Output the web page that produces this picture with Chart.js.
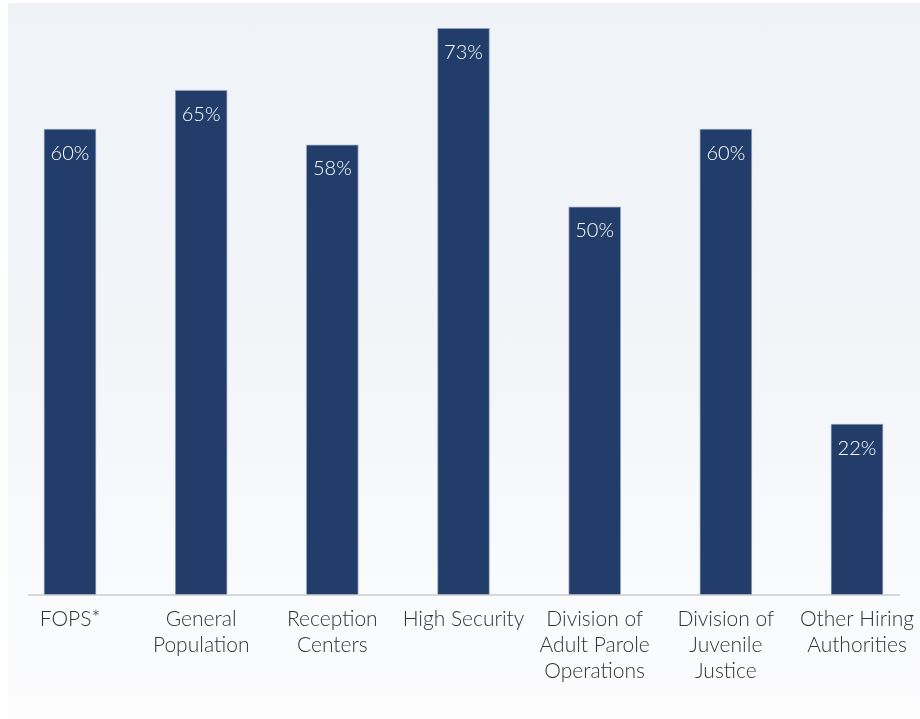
<!DOCTYPE html>
<html>
<head>
<meta charset="utf-8">
<script src="https://cdn.jsdelivr.net/npm/chart.js@4.4.1/dist/chart.umd.min.js"></script>
<style>
  html, body { margin: 0; padding: 0; background: #ffffff; }
  #wrap { position: relative; width: 920px; height: 719px; }
  #panel { position: absolute; left: 8px; top: 3px; width: 912px; height: 716px;
    background: linear-gradient(to bottom, #eff2f7 0%, #f3f5f9 50%, #fafbfd 85%, #fcfcfd 100%); }
  #c { position: absolute; left: 0; top: 0; }
</style>
</head>
<body>
<div id="wrap">
  <div id="panel"></div>
  <canvas id="c" width="920" height="719"></canvas>
</div>
<script>
const categories = [
  "FOPS*",
  ["General", "Population"],
  ["Reception", "Centers"],
  "High Security",
  ["Division of", "Adult Parole", "Operations"],
  ["Division of", "Juvenile", "Justice"],
  ["Other Hiring", "Authorities"]
];
const values = [60, 65, 58, 73, 50, 60, 22];
const valueLabels = ["60%", "65%", "58%", "73%", "50%", "60%", "22%"];

const FONT = "Lato, 'Noto Sans', sans-serif";

const barLabels = {
  id: 'barLabels',
  afterDatasetsDraw(chart) {
    const ctx = chart.ctx;
    const meta = chart.getDatasetMeta(0);
    ctx.save();
    ctx.fillStyle = '#ffffff';
    ctx.font = '300 20px ' + FONT;
    ctx.textAlign = 'center';
    ctx.textBaseline = 'middle';
    meta.data.forEach((bar, i) => {
      ctx.fillText(valueLabels[i], bar.x, bar.y + 24);
    });
    ctx.restore();
  }
};

const axisLine = {
  id: 'axisLine',
  afterDatasetsDraw(chart) {
    const ctx = chart.ctx;
    const y = chart.scales.y.getPixelForValue(0);
    ctx.save();
    ctx.strokeStyle = '#cbcdd1';
    ctx.lineWidth = 1.5;
    ctx.beginPath();
    ctx.moveTo(28, y);
    ctx.lineTo(900, y);
    ctx.stroke();
    ctx.restore();
  }
};

new Chart(document.getElementById('c'), {
  type: 'bar',
  data: {
    labels: categories,
    datasets: [{
      data: values,
      backgroundColor: '#233d6b',
      borderColor: 'rgba(120,140,175,0.8)',
      borderWidth: 1,
      borderSkipped: 'bottom',
      barThickness: 52,
      clip: false
    }]
  },
  options: {
    responsive: false,
    animation: false,
    layout: { padding: { left: 70, right: 63, top: 5, bottom: 24 } },
    plugins: { legend: { display: false }, tooltip: { enabled: false } },
    scales: {
      x: {
        offset: false,
        grid: { display: false, drawTicks: false },
        border: { display: false },
        ticks: {
          color: '#333333',
          font: { family: FONT, size: 21, weight: '300', lineHeight: 1.24 },
          padding: 11,
          maxRotation: 0,
          autoSkip: false
        },
        afterFit(scale) { scale.paddingLeft = 0; scale.paddingRight = 0; }
      },
      y: {
        display: false,
        min: 0,
        max: 76
      }
    }
  },
  plugins: [barLabels, axisLine]
});
</script>
</body>
</html>
